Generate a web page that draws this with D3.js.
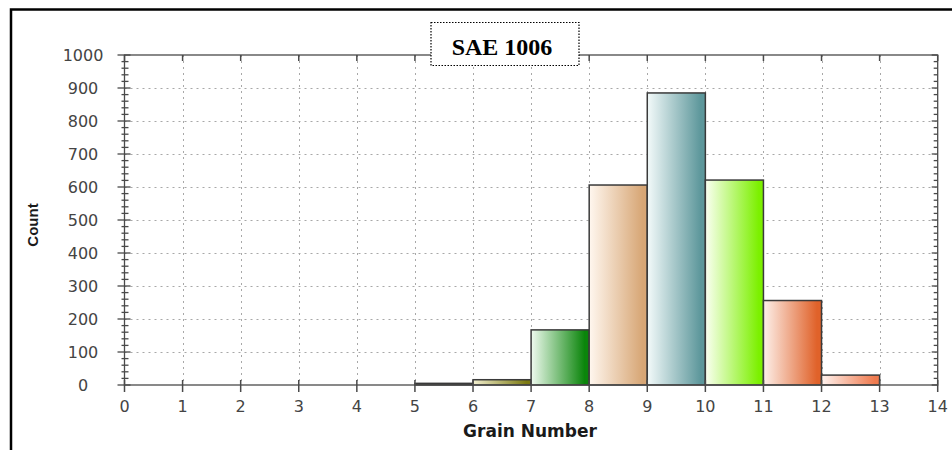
<!DOCTYPE html>
<html>
<head>
<meta charset="utf-8">
<script src="https://cdn.jsdelivr.net/npm/d3@7"></script>
<style>
  body { margin: 0; background: #fff; }
  svg { display: block; }
</style>
</head>
<body>
<div id="chart"></div>
<script>
// histogram bins (left edge of each grain number class) and counts
const binStart = [5, 6, 7, 8, 9, 10, 11, 12];
const counts = [5, 16, 167, 606, 885, 621, 256, 30];
// gradient light (left) and dark (right) colours for each bar
const lightColors = ["#6b6b4a", "#f2efcf", "#effaef", "#fff7ef", "#f3fafa", "#fbfff2", "#fdf0ea", "#fff3ef"];
const darkColors = ["#1c1c1c", "#7c7a12", "#0b850b", "#d7a675", "#5d979b", "#7cf000", "#e0622a", "#ef7a4e"];
const xTicks = d3.range(0, 15);
const yTicks = d3.range(0, 1001, 100);
const chartTitle = "SAE 1006";

const width = 952, height = 450;
const svg = d3.select("#chart").append("svg")
    .attr("width", width)
    .attr("height", height);

let x = d3.scaleLinear().domain([0, 14]).range([124.5, 937.7]);
let y = d3.scaleLinear().domain([0, 1000]).range([385, 55]);

// outer frame (top + left only visible)
svg.append("path")
    .attr("d", "M11,450 V9.5 H952")
    .attr("fill", "none")
    .attr("stroke", "#000")
    .attr("stroke-width", 2.5);

// dotted grid
let grid = svg.append("g").attr("stroke", "#a8a8a8").attr("stroke-width", 1)
    .attr("stroke-dasharray", "2,4");
grid.selectAll(".gx").data(xTicks.slice(1, -1)).enter().append("line")
    .attr("x1", d => Math.round(x(d)) + 0.5).attr("x2", d => Math.round(x(d)) + 0.5)
    .attr("y1", y(1000)).attr("y2", y(0));
grid.selectAll(".gy").data(yTicks.slice(1, -1)).enter().append("line")
    .attr("x1", x(0)).attr("x2", x(14))
    .attr("y1", d => Math.round(y(d)) + 0.5).attr("y2", d => Math.round(y(d)) + 0.5);

// gradients
let defs = svg.append("defs");
binStart.forEach((b, i) => {
    let g = defs.append("linearGradient").attr("id", "grad" + i)
        .attr("x1", "0%").attr("x2", "100%").attr("y1", "0%").attr("y2", "0%");
    g.append("stop").attr("offset", "0%").attr("stop-color", lightColors[i]);
    g.append("stop").attr("offset", "92%").attr("stop-color", darkColors[i]);
    g.append("stop").attr("offset", "100%").attr("stop-color", darkColors[i]);
});

// bars
svg.selectAll(".bar").data(binStart).enter().append("rect")
    .attr("class", "bar")
    .attr("x", d => x(d))
    .attr("width", d => x(d + 1) - x(d))
    .attr("y", (d, i) => y(counts[i]))
    .attr("height", (d, i) => y(0) - y(counts[i]))
    .attr("fill", (d, i) => "url(#grad" + i + ")")
    .attr("stroke", "#3a3a3a")
    .attr("stroke-width", 1.5);

// frame of plot area
let axisColor = "#4a4a4a";
svg.append("rect")
    .attr("x", x(0)).attr("y", y(1000))
    .attr("width", x(14) - x(0)).attr("height", y(0) - y(1000))
    .attr("fill", "none").attr("stroke", axisColor).attr("stroke-width", 1.3);

// left axis ticks (major + minor), crossing the axis
let minorY = d3.range(0, 1001, 20);
svg.append("g").selectAll("line").data(minorY).enter().append("line")
    .attr("x1", d => d % 100 === 0 ? x(0) - 7 : x(0) - 3)
    .attr("x2", d => d % 100 === 0 ? x(0) + 6 : x(0) + 4)
    .attr("y1", d => y(d)).attr("y2", d => y(d))
    .attr("stroke", axisColor).attr("stroke-width", 1.3);
// right axis ticks, inside
svg.append("g").selectAll("line").data(minorY).enter().append("line")
    .attr("x1", d => d % 100 === 0 ? x(14) - 6 : x(14) - 4)
    .attr("x2", x(14))
    .attr("y1", d => y(d)).attr("y2", d => y(d))
    .attr("stroke", axisColor).attr("stroke-width", 1.3);
// bottom ticks crossing, top ticks inside
svg.append("g").selectAll("line").data(xTicks).enter().append("line")
    .attr("x1", d => x(d)).attr("x2", d => x(d))
    .attr("y1", y(0) - 5).attr("y2", y(0) + 7)
    .attr("stroke", axisColor).attr("stroke-width", 1.5);
svg.append("g").selectAll("line").data(xTicks).enter().append("line")
    .attr("x1", d => x(d)).attr("x2", d => x(d))
    .attr("y1", y(1000)).attr("y2", y(1000) + 6)
    .attr("stroke", axisColor).attr("stroke-width", 1.5);

// tick labels
svg.append("g").selectAll("text").data(yTicks).enter().append("text")
    .attr("x", 83)
    .attr("y", d => y(d) + 6)
    .attr("text-anchor", "middle")
    .style("font-family", "'DejaVu Sans', sans-serif")
    .style("font-size", "16px")
    .attr("fill", "#444")
    .text(d => d);
svg.append("g").selectAll("text").data(xTicks).enter().append("text")
    .attr("x", d => x(d))
    .attr("y", 412)
    .attr("text-anchor", "middle")
    .style("font-family", "'DejaVu Sans', sans-serif")
    .style("font-size", "16px")
    .attr("fill", "#444")
    .text(d => d);

// axis titles
svg.append("text")
    .attr("transform", "translate(38,225) rotate(-90)")
    .attr("text-anchor", "middle")
    .style("font-family", "'Liberation Sans', Arial, sans-serif")
    .style("font-size", "15px")
    .style("font-weight", "bold")
    .attr("fill", "#1a1a1a")
    .text("Count");
svg.append("text")
    .attr("x", 530)
    .attr("y", 437)
    .attr("text-anchor", "middle")
    .style("font-family", "'DejaVu Sans', sans-serif")
    .style("font-size", "17px")
    .style("font-weight", "bold")
    .attr("fill", "#1a1a1a")
    .text("Grain Number");

// title box
svg.append("rect")
    .attr("x", 431).attr("y", 22.5)
    .attr("width", 148).attr("height", 43)
    .attr("fill", "#fff")
    .attr("stroke", "#000")
    .attr("stroke-width", 1.2)
    .attr("stroke-dasharray", "1.5,1.5");
svg.append("text")
    .attr("x", 502)
    .attr("y", 55)
    .attr("text-anchor", "middle")
    .style("font-family", "'Liberation Serif', 'Times New Roman', serif")
    .style("font-size", "24px")
    .style("font-weight", "bold")
    .attr("fill", "#000")
    .text(chartTitle);
</script>
</body>
</html>
